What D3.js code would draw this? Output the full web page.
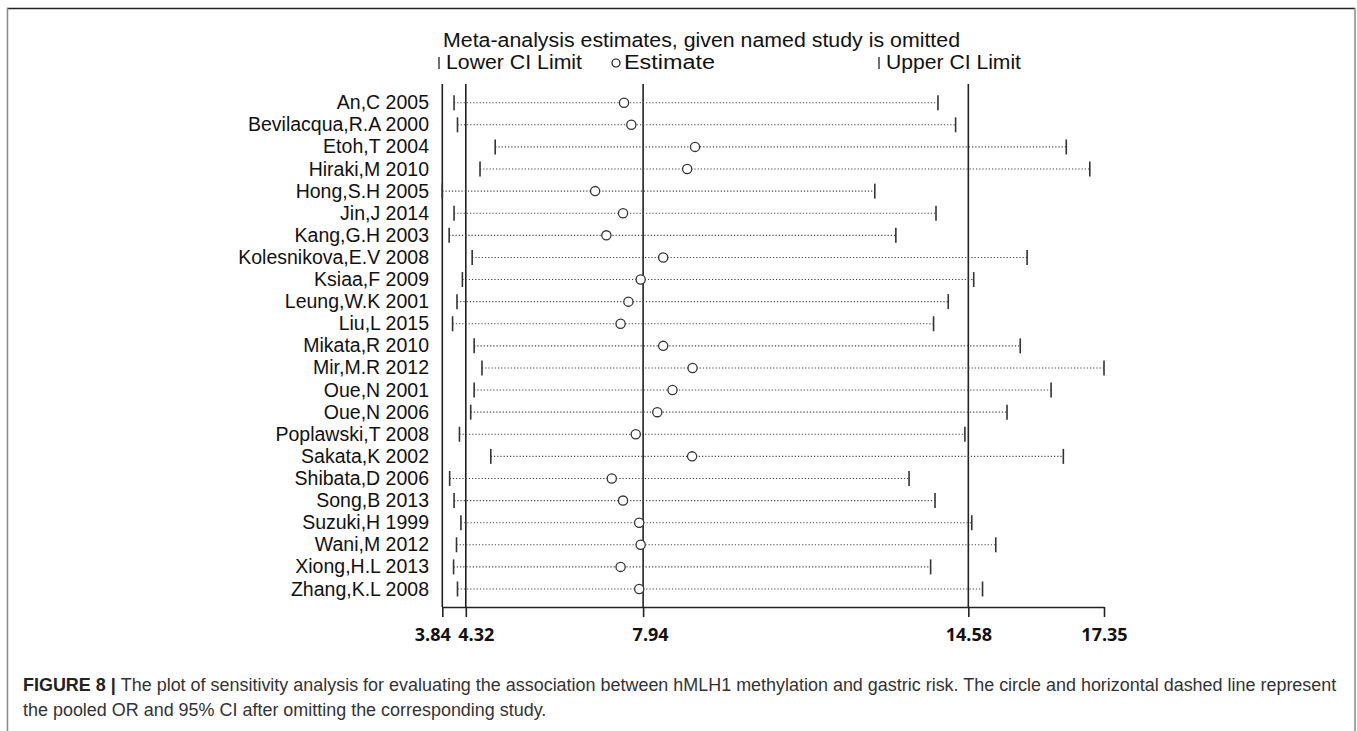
<!DOCTYPE html>
<html>
<head>
<meta charset="utf-8">
<script src="https://cdn.jsdelivr.net/npm/d3@7/dist/d3.min.js"></script>
<style>
body{
margin:0;
background-color:white;
font-family:"Liberation Sans",Arial,sans-serif;
}
</style>
</head>
<body>
<div id="chart"></div>
<script>
// studies top to bottom, CI values
var studies = ["An,C 2005","Bevilacqua,R.A 2000","Etoh,T 2004","Hiraki,M 2010","Hong,S.H 2005",
"Jin,J 2014","Kang,G.H 2003","Kolesnikova,E.V 2008","Ksiaa,F 2009","Leung,W.K 2001",
"Liu,L 2015","Mikata,R 2010","Mir,M.R 2012","Oue,N 2001","Oue,N 2006","Poplawski,T 2008",
"Sakata,K 2002","Shibata,D 2006","Song,B 2013","Suzuki,H 1999","Wani,M 2012","Xiong,H.L 2013","Zhang,K.L 2008"]
var estimates = [7.55,7.70,9.00,8.84,6.96,7.53,7.19,8.35,7.89,7.64,7.48,8.35,8.95,8.54,8.23,7.79,8.94,7.30,7.53,7.86,7.89,7.48,7.86]
var lowerCI = [4.08,4.15,4.92,4.61,3.84,4.08,3.98,4.45,4.25,4.14,4.05,4.49,4.65,4.49,4.42,4.19,4.83,3.99,4.08,4.22,4.13,4.07,4.15]
var upperCI = [13.96,14.32,16.58,17.06,12.67,13.92,13.10,15.78,14.69,14.17,13.87,15.64,17.35,16.27,15.37,14.51,16.52,13.37,13.90,14.65,15.14,13.81,14.87]
var tickValues = [3.84,4.32,7.94,14.58,17.35]
var refLines = [3.84,4.32,7.94,14.58]
var xDomain = [3.84,17.35]

var titleText = "Meta-analysis estimates, given named study is omitted"
var captionBold = "FIGURE 8"
var captionLine1 = "The plot of sensitivity analysis for evaluating the association between hMLH1 methylation and gastric risk. The circle and horizontal dashed line represent"
var captionLine2 = "the pooled OR and 95% CI after omitting the corresponding study."

var W = 1357, H = 731
var ink = "#111"

var svg = d3.select("#chart").append("svg")
.attr("width",W)
.attr("height",H)

// frame round the figure
svg.append("line").attr("x1",7).attr("x2",1355).attr("y1",8.5).attr("y2",8.5)
.attr("stroke","#222").attr("stroke-width",1.5)
svg.append("line").attr("x1",7.5).attr("x2",7.5).attr("y1",8).attr("y2",H)
.attr("stroke","#888").attr("stroke-width",1.5)
svg.append("line").attr("x1",1355).attr("x2",1355).attr("y1",8).attr("y2",H)
.attr("stroke","#888").attr("stroke-width",1.5)

var x = d3.scaleLinear().domain(xDomain).range([442.3,1104])
var y = d3.scalePoint().domain(studies).range([102.7,589])

var plotTop = 84, axisY = 607

// title + legend (the top text is drawn a bit wide in the original)
svg.append("text").attr("x",443).attr("y",47)
.attr("font-size",19.5).attr("fill",ink)
.attr("textLength",517).attr("lengthAdjust","spacingAndGlyphs")
.text(titleText)

var leg = svg.append("g").attr("font-size",19.5).attr("fill",ink)
leg.append("line").attr("x1",439).attr("x2",439).attr("y1",57).attr("y2",69)
.attr("stroke",ink).attr("stroke-width",1.2)
leg.append("text").attr("x",446).attr("y",69)
.attr("textLength",136).attr("lengthAdjust","spacingAndGlyphs").text("Lower CI Limit")
leg.append("circle").attr("cx",616).attr("cy",63).attr("r",4)
.attr("fill","white").attr("stroke",ink).attr("stroke-width",1.2)
leg.append("text").attr("x",624).attr("y",69)
.attr("textLength",91).attr("lengthAdjust","spacingAndGlyphs").text("Estimate")
leg.append("line").attr("x1",879).attr("x2",879).attr("y1",57).attr("y2",69)
.attr("stroke",ink).attr("stroke-width",1.2)
leg.append("text").attr("x",886).attr("y",69)
.attr("textLength",135).attr("lengthAdjust","spacingAndGlyphs").text("Upper CI Limit")

// study labels
svg.selectAll(".label")
.data(studies)
.enter()
.append("text")
.attr("class","label")
.attr("x",429)
.attr("y",function(d){return y(d)+6.5})
.attr("text-anchor","end")
.attr("font-size",19.5)
.attr("fill",ink)
.text(function(d){return d})

// vertical reference lines
svg.selectAll(".ref")
.data(refLines)
.enter()
.append("line")
.attr("class","ref")
.attr("x1",function(d){return x(d)})
.attr("x2",function(d){return x(d)})
.attr("y1",plotTop)
.attr("y2",axisY)
.attr("stroke","#222")
.attr("stroke-width",1.6)

var rows = studies.map(function(s,i){
return {study:s,est:estimates[i],lo:lowerCI[i],hi:upperCI[i]}
})

// dotted CI lines
svg.selectAll(".ci")
.data(rows)
.enter()
.append("line")
.attr("class","ci")
.attr("x1",function(d){return x(d.lo)})
.attr("x2",function(d){return x(d.hi)})
.attr("y1",function(d){return y(d.study)})
.attr("y2",function(d){return y(d.study)})
.attr("stroke","#444")
.attr("stroke-width",1.1)
.attr("stroke-dasharray","1.2,2")

// CI end marks
svg.selectAll(".loTick")
.data(rows)
.enter()
.append("line")
.attr("class","loTick")
.attr("x1",function(d){return x(d.lo)})
.attr("x2",function(d){return x(d.lo)})
.attr("y1",function(d){return y(d.study)-7.5})
.attr("y2",function(d){return y(d.study)+7.5})
.attr("stroke","#333")
.attr("stroke-width",1.6)

svg.selectAll(".hiTick")
.data(rows)
.enter()
.append("line")
.attr("class","hiTick")
.attr("x1",function(d){return x(d.hi)})
.attr("x2",function(d){return x(d.hi)})
.attr("y1",function(d){return y(d.study)-7.5})
.attr("y2",function(d){return y(d.study)+7.5})
.attr("stroke","#333")
.attr("stroke-width",1.6)

// estimates
svg.selectAll(".est")
.data(rows)
.enter()
.append("circle")
.attr("class","est")
.attr("cx",function(d){return x(d.est)})
.attr("cy",function(d){return y(d.study)})
.attr("r",4.6)
.attr("fill","white")
.attr("stroke","#333")
.attr("stroke-width",1.3)

// x axis
var axis = svg.append("g")
.attr("transform","translate(0,"+axisY+")")
.call(d3.axisBottom(x).tickValues(tickValues).tickSize(10).tickSizeOuter(0).tickPadding(11)
.tickFormat(d3.format(".2f")))
axis.select(".domain").attr("stroke","#222").attr("stroke-width",1.6)
axis.selectAll(".tick line").attr("stroke","#222").attr("stroke-width",1.6)
axis.selectAll(".tick text")
.attr("font-family","'Open Sans',sans-serif")
.attr("font-weight","bold")
.attr("font-size",18)
.attr("fill",ink)
.attr("text-anchor",function(d){
if(d==3.84) return "end"
if(d==4.32) return "start"
return "middle"
})
.attr("dx",function(d){
if(d==3.84) return 8
if(d==4.32) return -8
if(d==7.94) return 7
return 0
})

// caption, squeezed to the width of the original line
var cap = svg.append("g").attr("font-size",18.5)
var t1 = cap.append("text").attr("x",0).attr("y",0).attr("fill","#333")
t1.append("tspan").attr("font-weight","bold").attr("fill","#222").text(captionBold)
t1.append("tspan").attr("font-weight","bold").attr("fill","#222").text(" | ")
t1.append("tspan").text(captionLine1)
cap.append("text").attr("x",0).attr("y",25).attr("fill","#333").text(captionLine2)
var natural = t1.node().getComputedTextLength()
var sx = 1314/natural
cap.attr("transform","translate(23,691) scale("+sx+",1)")

</script>
</body>
</html>
